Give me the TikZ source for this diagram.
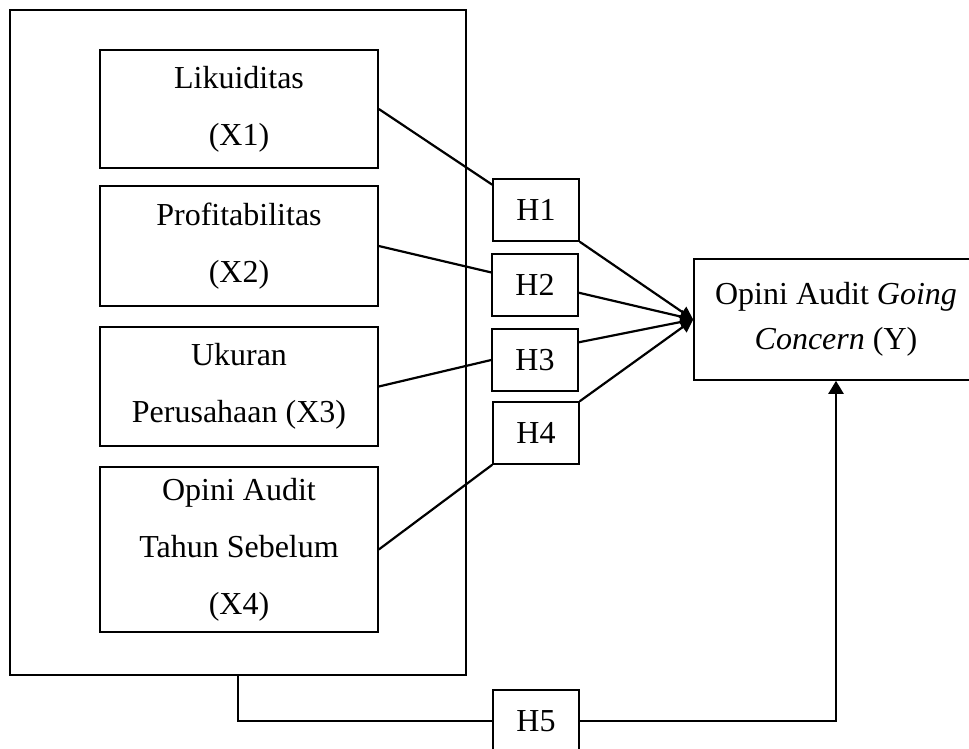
\documentclass[tikz,border=0pt]{standalone}
\usepackage{fontspec}
\setmainfont{Liberation Serif}
\usetikzlibrary{arrows.meta}
\begin{document}
\begin{tikzpicture}[x=1pt, y=-1pt, every node/.style={font=\fontsize{32}{57}\selectfont},
  b/.style={draw, line width=1.6pt, align=center, minimum width=278pt, inner sep=0pt},
  h/.style={draw, line width=1.6pt, minimum width=86pt, minimum height=62pt, inner sep=0pt},
  c/.style={line width=2.2pt},
  tip/.style={c, -{Triangle[length=13pt, width=13pt]}}]
  \useasboundingbox (0,0) rectangle (969,749);
  \node[draw, line width=1.6pt, minimum width=456pt, minimum height=665pt] (outer) at (238,342.5) {};
  \node[b, minimum height=118pt] (x1) at (239,109) {Likuiditas\\(X1)};
  \node[b, minimum height=120pt] (x2) at (239,246) {Profitabilitas\\(X2)};
  \node[b, minimum height=119pt] (x3) at (239,386.5) {Ukuran\\Perusahaan (X3)};
  \node[b, minimum height=165pt] (x4) at (239,549.5) {Opini Audit\\Tahun Sebelum\\(X4)};
  \node[h] (h1) at (536,210) {H1};
  \node[h] (h2) at (535,285) {H2};
  \node[h] (h3) at (535,360) {H3};
  \node[h] (h4) at (536,433) {H4};
  \node[h] (h5) at (536,721) {H5};
  \node[draw, line width=1.6pt, align=center, minimum width=284pt, minimum height=121pt, inner sep=0pt,
    font=\fontsize{32}{45}\selectfont] (y) at (836,319.5) {Opini Audit \textit{Going}\\\textit{Concern} (Y)};
  \draw[c] (x1.east) -- (h1.150); \draw[c] (x2.east) -- (h2.164);
  \draw[c] (x3.east) -- (h3.west); \draw[c] (x4.east) -- (h4.south west);
  \draw[tip] (h1.south east) -- (y.west); \draw[tip] (h2.-10) -- (y.west);
  \draw[tip] (h3.22) -- (y.west); \draw[tip] (h4.north east) -- (y.west);
  \draw[c] (outer.south) |- (h5.west);
  \draw[c, -{Triangle[length=13pt, width=15pt]}] (h5.east) -| (y.south);
\end{tikzpicture}
\end{document}
